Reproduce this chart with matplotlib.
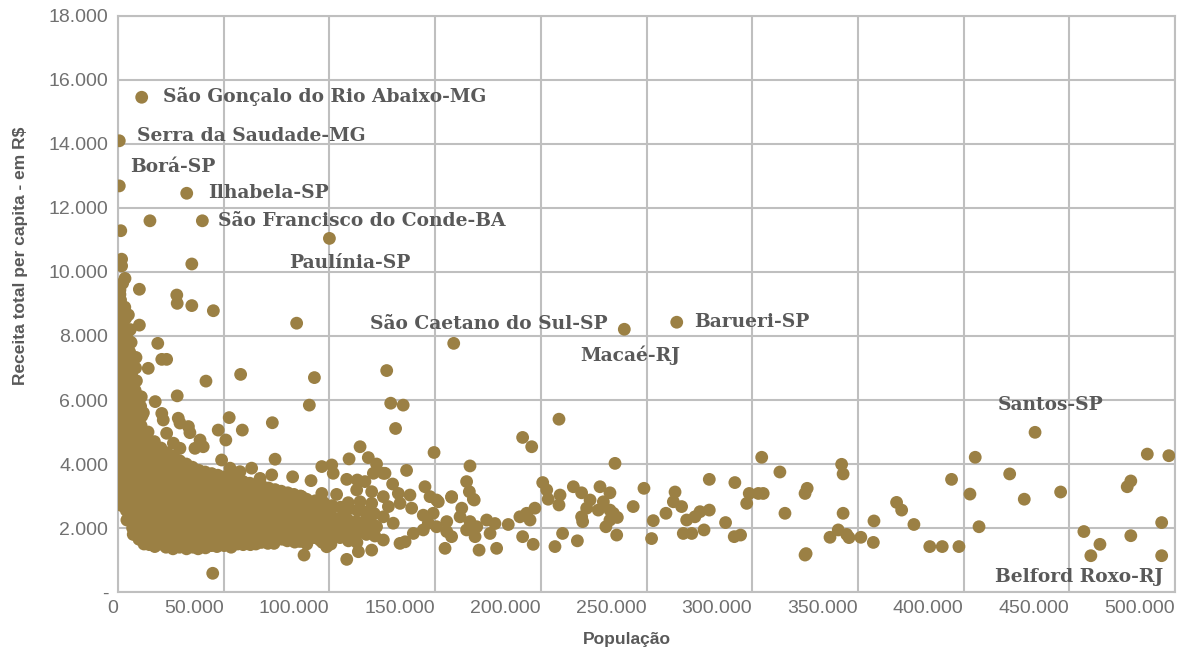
import numpy as np
import matplotlib
matplotlib.use("Agg")
import matplotlib.pyplot as plt
from matplotlib.ticker import FuncFormatter, MultipleLocator

# municipios com rotulo: (nome, populacao, receita per capita)
destaque_nomes = ["São Gonçalo do Rio Abaixo-MG", "Serra da Saudade-MG", "Borá-SP",
                  "Ilhabela-SP", "São Francisco do Conde-BA", "Paulínia-SP",
                  "São Caetano do Sul-SP", "Macaé-RJ", "Barueri-SP", "Santos-SP",
                  "Belford Roxo-RJ"]
destaque_pop = [11200, 600, 600, 32500, 39900, 100000, 158800, 239500, 264300, 433800, 493700]
destaque_rec = [15460, 14100, 12690, 12460, 11600, 11050, 7770, 8210, 8430, 4990, 1135]
# posicao do rotulo (populacao, receita) onde o texto comeca
rotulo_pos = [(21300, 15470), (9000, 14250), (5700, 13280), (42600, 12470),
              (47300, 11590), (80900, 10280), (119200, 8375), (218500, 7400),
              (272400, 8440), (416200, 5840), (414800, 470)]

# municipios muito pequenos (coluna junto ao eixo)
pontos_coluna = [
    (900, 9300), (1200, 9000), (800, 8700), (1400, 8400), (1000, 8100), (700, 7800),
    (1300, 7500), (1100, 7200), (900, 6900), (1500, 6600), (800, 6300), (1200, 6000),
    (1000, 5700), (1400, 5400), (700, 5100), (1100, 4800), (1300, 4500), (900, 4200),
    (1200, 3900), (1500, 3600), (1000, 3300), (1600, 3000), (1800, 2700),
    (3200, 8900), (3600, 8550), (3000, 8250), (3400, 7950), (3800, 7650), (3100, 7350),
    (3500, 7050), (3300, 6750), (3700, 6450), (3000, 6150), (3400, 5850), (3800, 5550),
    (3200, 5250), (3600, 4950), (3100, 4650), (3500, 4350), (3900, 4050), (3300, 3750),
    (3700, 3450), (3100, 3150), (3500, 2850), (3900, 2550), (4200, 2250),
    (5800, 8200), (6200, 7800), (5500, 7500), (6000, 7100), (6400, 6800), (5700, 6500),
    (6100, 6200), (5600, 5900), (6300, 5600), (5900, 5300), (6500, 5000), (5800, 4700),
    (6200, 4400), (5600, 4100), (6400, 3800), (6000, 3500), (5700, 3200), (6300, 2900),
    (6100, 2600), (6600, 2300), (6900, 2000), (7200, 1800),
    (8300, 7000), (8700, 6600), (8100, 6300), (8900, 6000), (8400, 5700), (8800, 5400),
    (8200, 5100), (8600, 4800), (9000, 4500), (8400, 4200), (8800, 3900), (8200, 3600),
    (8700, 3300), (9100, 3000), (8500, 2700), (8900, 2400), (9300, 2100), (9600, 1850),
    (9900, 1650),
    (11000, 6100), (10700, 5800), (11300, 5500), (10900, 5200), (11500, 4900), (11100, 4600),
    (10800, 4300), (11400, 4000), (11000, 3700), (11600, 3400), (11200, 3100), (10900, 2800),
    (11500, 2500), (11100, 2200), (11700, 1950), (12000, 1700), (12300, 1500),
    (1300, 11290), (1700, 10400), (1700, 10190), (3300, 9800), (900, 9440), (1200, 9125),
    (4900, 8660), (2200, 9650), (2400, 8400), (2100, 7600), (2300, 6800), (2000, 6000),
    (2200, 5200), (2400, 4400), (2100, 3600), (2600, 2900), (4600, 7900), (4700, 7000),
    (4500, 6100), (4800, 5200), (4600, 4300), (4900, 3400), (5100, 2500),
]

# nucleo denso ate ~90 mil habitantes
pontos_nucleo = [
    (14200, 5000), (13800, 4750), (14500, 4500), (14000, 4250), (13700, 4000), (14300, 3750),
    (14600, 3500), (13900, 3250), (14200, 3000), (13800, 2750), (14500, 2500), (14100, 2250),
    (13700, 2000), (14400, 1750), (14800, 1480),
    (17200, 4700), (16800, 4450), (17500, 4200), (17000, 3950), (16700, 3700), (17300, 3450),
    (17600, 3200), (16900, 2950), (17200, 2700), (16800, 2450), (17500, 2200), (17100, 1950),
    (16700, 1700), (17400, 1420),
    (20300, 4500), (19800, 4250), (20500, 4000), (20000, 3750), (19700, 3500), (20400, 3250),
    (20100, 3000), (19800, 2750), (20600, 2500), (20200, 2250), (19900, 2000), (20500, 1750),
    (20100, 1500),
    (23200, 4350), (22800, 4100), (23500, 3850), (23000, 3600), (22700, 3350), (23300, 3100),
    (23600, 2850), (22900, 2600), (23200, 2350), (22800, 2100), (23500, 1850), (23100, 1600),
    (22700, 1400),
    (26300, 4250), (25800, 4000), (26500, 3750), (26000, 3500), (25700, 3250), (26400, 3000),
    (26100, 2750), (25800, 2500), (26600, 2250), (26200, 2000), (25900, 1750), (26500, 1500),
    (26000, 1350),
    (29200, 4100), (28800, 3850), (29500, 3600), (29000, 3350), (28700, 3100), (29300, 2850),
    (29600, 2600), (28900, 2350), (29200, 2100), (28800, 1850), (29500, 1600), (29100, 1400),
    (32300, 4000), (31800, 3750), (32500, 3500), (32000, 3250), (31700, 3000), (32400, 2750),
    (32100, 2500), (31800, 2250), (32600, 2000), (32200, 1750), (31900, 1500), (32400, 1350),
    (35200, 3900), (34800, 3650), (35500, 3400), (35000, 3150), (34700, 2900), (35300, 2650),
    (35600, 2400), (34900, 2150), (35200, 1900), (34800, 1650), (35500, 1400),
    (38300, 3800), (37800, 3550), (38500, 3300), (38000, 3050), (37700, 2800), (38400, 2550),
    (38100, 2300), (37800, 2050), (38600, 1800), (38200, 1550), (37900, 1350),
    (41200, 3750), (40800, 3500), (41500, 3250), (41000, 3000), (40700, 2750), (41300, 2500),
    (41600, 2250), (40900, 2000), (41200, 1750), (40800, 1500), (41400, 1380),
    (44300, 3700), (43800, 3450), (44500, 3200), (44000, 2950), (43700, 2700), (44400, 2450),
    (44100, 2200), (43800, 1950), (44600, 1700), (44200, 1450),
    (47200, 3650), (46800, 3400), (47500, 3150), (47000, 2900), (46700, 2650), (47300, 2400),
    (47600, 2150), (46900, 1900), (47200, 1650), (46800, 1420),
    (50300, 3600), (49800, 3350), (50500, 3100), (50000, 2850), (49700, 2600), (50400, 2350),
    (50100, 2100), (49800, 1850), (50600, 1600), (50200, 1450),
    (53200, 3550), (52800, 3300), (53500, 3050), (53000, 2800), (52700, 2550), (53300, 2300),
    (53600, 2050), (52900, 1800), (53200, 1550), (53500, 1400),
    (56300, 3500), (55800, 3250), (56500, 3000), (56000, 2750), (55700, 2500), (56400, 2250),
    (56100, 2000), (55800, 1750), (56600, 1500),
    (59200, 3450), (58800, 3200), (59500, 2950), (59000, 2700), (58700, 2450), (59300, 2200),
    (59600, 1950), (58900, 1700), (59200, 1480),
    (62300, 3400), (61800, 3150), (62500, 2900), (62000, 2650), (61700, 2400), (62400, 2150),
    (62100, 1900), (61800, 1650), (62600, 1480),
    (65200, 3350), (64800, 3100), (65500, 2850), (65000, 2600), (64700, 2350), (65300, 2100),
    (65600, 1850), (64900, 1600), (65200, 1500),
    (68300, 3300), (67800, 3050), (68500, 2800), (68000, 2550), (67700, 2300), (68400, 2050),
    (68100, 1800), (67800, 1550),
    (71200, 3250), (70800, 3000), (71500, 2750), (71000, 2500), (70700, 2250), (71300, 2000),
    (71600, 1750), (70900, 1520),
    (74300, 3200), (73800, 2950), (74500, 2700), (74000, 2450), (73700, 2200), (74400, 1950),
    (74100, 1700), (73800, 1520),
    (77200, 3150), (76800, 2900), (77500, 2650), (77000, 2400), (76700, 2150), (77300, 1900),
    (77600, 1650),
    (80300, 3100), (79800, 2850), (80500, 2600), (80000, 2350), (79700, 2100), (80400, 1850),
    (80100, 1600),
    (83200, 3050), (82800, 2800), (83500, 2550), (83000, 2300), (82700, 2050), (83300, 1800),
    (83600, 1560),
    (86300, 3000), (85800, 2750), (86500, 2500), (86000, 2250), (85700, 2000), (86400, 1750),
    (86100, 1580),
    # dispersos acima do nucleo
    (10100, 9460), (10100, 8340), (34900, 10250), (27800, 9280), (28000, 9020), (34900, 8950),
    (45100, 8790), (84500, 8400), (18800, 7770), (20700, 7270), (23000, 7270), (14300, 6990),
    (8500, 7330), (41600, 6590), (58000, 6800), (28000, 6130), (17600, 5950), (10400, 6100),
    (52600, 5450), (58800, 5060), (73000, 5290), (20700, 5580), (21400, 5375), (28500, 5430),
    (29300, 5280), (33300, 5170), (34000, 4980), (12000, 5600), (47400, 5060), (51000, 4750),
    (38800, 4750), (23000, 4960), (40300, 4540), (36400, 4490), (26200, 4650), (29300, 4490),
    (44800, 585), (15100, 11600), (82600, 3600), (72700, 3660), (67200, 3550), (57700, 3760),
    (63200, 3870), (53000, 3870), (74300, 4150), (49000, 4125),
]

# municipios medios (90 mil a 310 mil)
pontos_medios = [
    (89200, 2900), (88800, 2600), (89500, 2300), (89000, 2000), (88700, 1750), (89300, 1500),
    (93300, 2850), (92800, 2550), (93500, 2250), (93000, 1950), (92700, 1700),
    (97200, 2800), (96800, 2500), (97500, 2150), (97000, 1850), (96700, 1550),
    (101300, 2700), (100800, 2400), (101500, 2050), (101000, 1750), (100700, 1500),
    (105200, 2650), (104800, 2300), (105500, 2000), (105000, 1700),
    (109300, 2600), (108800, 2250), (109500, 1900), (109000, 1600),
    (113200, 2550), (112800, 2200), (113500, 1850), (113000, 1550),
    (117300, 2500), (116800, 2150), (117500, 1800),
    (121200, 2450), (120800, 2100), (121500, 1750),
    (92900, 6700), (90500, 5840), (127100, 6920), (129000, 5900), (134900, 5840), (131300, 5110),
    (149500, 4360), (166500, 3940), (114500, 4540), (109300, 4160), (118400, 4200), (122300, 4000),
    (136500, 3800), (96400, 3920), (101100, 3970), (91300, 3480), (108200, 3520), (125500, 3710),
    (157800, 2980), (168100, 2900), (150700, 2875), (138100, 3030), (129900, 3375), (132600, 3080),
    (120000, 3135), (125500, 2980), (103400, 3050), (96400, 3080), (108900, 2790), (114500, 2820),
    (120000, 2770), (127900, 2670), (133400, 2770), (155500, 2200), (125500, 1625), (120000, 1310),
    (113700, 1260), (108200, 1020), (88000, 1155), (98700, 1415), (95500, 1625), (101800, 1730),
    (111300, 1940), (117600, 1940), (122300, 2040), (130200, 2150), (106600, 2350), (117600, 2400),
    (125500, 2350), (95500, 2350), (90800, 2150), (100300, 2200), (90800, 2770), (100300, 2670),
    (86900, 2980), (112900, 3190), (116800, 3450), (120800, 3710), (133400, 1520), (113200, 3500),
    (101800, 3710),
    (208600, 5400), (191400, 4830), (195700, 4540), (235100, 4020), (304500, 4210), (279700, 3520),
    (291800, 3420), (248800, 3240), (228000, 3290), (232700, 3100), (215400, 3290), (219300, 3100),
    (200900, 3420), (202800, 3190), (203500, 2900), (209100, 3030), (208600, 2720), (223300, 2875),
    (221700, 2620), (227200, 2560), (229600, 2820), (232700, 2560), (234300, 2460), (236200, 2330),
    (232700, 2250), (230800, 2040), (219300, 2350), (219800, 2200), (235900, 1780), (243700, 2670),
    (253200, 2230), (252400, 1670), (259200, 2460), (263500, 3125), (262700, 2820), (266600, 2670),
    (269000, 2250), (272900, 2350), (275300, 2510), (279700, 2560), (267400, 1830), (271400, 1830),
    (277200, 1940), (287400, 2170), (291500, 1730), (294500, 1780), (297400, 2770), (298600, 3080),
    (302900, 3080), (305200, 3080), (191400, 1730), (196400, 1490), (190100, 2350), (193300, 2460),
    (194900, 2250), (197200, 2620), (206700, 1420), (210300, 1830), (217300, 1600), (184600, 2110),
    (179100, 1365), (170800, 1310), (154700, 1365), (178300, 2140), (174400, 2250), (176000, 1830),
    (169700, 2040), (168900, 1730), (164900, 1940), (166500, 2200), (157800, 1730), (155500, 1890),
    (161800, 2350), (162600, 2620), (157800, 2960), (164900, 3450), (166200, 3135), (168500, 2875),
    (151500, 2820), (147600, 2980), (145200, 3290), (126300, 3710), (138900, 2620), (144400, 2400),
    (149100, 2460), (146800, 2150), (150700, 2040), (144400, 1940), (135800, 1570), (139700, 1830),
]

# municipios grandes (acima de 310 mil)
pontos_grandes = [
    (313100, 3750), (315500, 2460), (325000, 3080), (326000, 3240), (325000, 1155), (325500, 1200),
    (342300, 3990), (343000, 3690), (343000, 2460), (336800, 1710), (340700, 1940), (344700, 1800),
    (345800, 1700), (351400, 1710), (357600, 2220), (357300, 1550), (368300, 2800), (370700, 2560),
    (376500, 2110), (384000, 1420), (389900, 1420), (397800, 1420), (394300, 3520), (403000, 3060),
    (405500, 4210), (407300, 2040), (421800, 3690), (428700, 2900), (445900, 3125), (456900, 1890),
    (460200, 1135), (464500, 1490), (477400, 3290), (479100, 3470), (479100, 1760), (486900, 4310),
    (497100, 4260), (493700, 2170),
]

outros = pontos_coluna + pontos_nucleo + pontos_medios + pontos_grandes
pop = np.array([p for p, r in outros] + destaque_pop)
rec = np.array([r for p, r in outros] + destaque_rec)

cor_ponto = "#9B8044"
cor_texto = "#595959"
cor_grade = "#BFBFBF"
fonte_eixo = ["Liberation Sans Narrow", "Liberation Sans", "DejaVu Sans"]

fig = plt.figure(figsize=(11.79, 6.52), dpi=100)
ax = fig.add_axes([0.1001, 0.092, 0.8965, 0.8835])

ax.scatter(pop, rec, s=85, color=cor_ponto, edgecolors="none", zorder=3)

for nome, (tx, ty) in zip(destaque_nomes, rotulo_pos):
    ax.text(tx, ty, nome, ha="left", va="center", fontsize=13.4, fontweight="bold",
            family="DejaVu Serif", color=cor_texto, zorder=4)

ax.set_xlim(0, 500000)
ax.set_ylim(0, 18000)
ax.xaxis.set_major_locator(MultipleLocator(50000))
ax.yaxis.set_major_locator(MultipleLocator(2000))


def milhar(v, pos):
    return f"{int(v):,}".replace(",", ".")


ax.xaxis.set_major_formatter(FuncFormatter(milhar))
ax.yaxis.set_major_formatter(FuncFormatter(lambda v, pos: "-" if v == 0 else milhar(v, pos)))

ax.grid(True, color=cor_grade, linewidth=1.5, zorder=0)
ax.set_axisbelow(True)
for lado in ax.spines.values():
    lado.set_color(cor_grade)
    lado.set_linewidth(1.5)

ax.tick_params(axis="both", length=0, labelsize=14, labelcolor="#707070")
ax.tick_params(axis="y", pad=7)
ax.tick_params(axis="x", pad=6)
for lbl in ax.get_xticklabels() + ax.get_yticklabels():
    lbl.set_family(fonte_eixo)
for lbl in ax.get_xticklabels():
    lbl.set_ha("right")
    lbl.set_x(0)

ax.set_xlabel("População", fontsize=12.5, fontweight="bold", family=fonte_eixo, color=cor_texto)
ax.set_ylabel("Receita total per capita - em R$", fontsize=12.5, fontweight="bold",
              family=fonte_eixo, color=cor_texto)
ax.xaxis.set_label_coords(0.481, -0.083)
ax.xaxis.label.set_va("center")
ax.yaxis.set_label_coords(-0.0927, 0.583)
ax.yaxis.label.set_va("center")

fig.savefig("out.png", dpi=100)
